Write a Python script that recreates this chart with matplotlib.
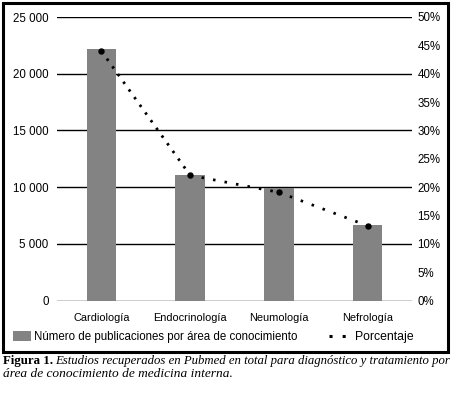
import matplotlib
matplotlib.use("Agg")
import matplotlib.pyplot as plt
from matplotlib.lines import Line2D
from matplotlib.patches import Patch, Rectangle

categories = ["Cardiología", "Endocrinología", "Neumología", "Nefrología"]
publicaciones = [22200, 11050, 9900, 6650]
porcentaje = [44.0, 22.1, 19.1, 13.2]
left_ticks = [0, 5000, 10000, 15000, 20000, 25000]
left_labels = ["0", "5 000", "10 000", "15 000", "20 000", "25 000"]
right_ticks = [0, 5, 10, 15, 20, 25, 30, 35, 40, 45, 50]
right_labels = [f"{t}%" for t in right_ticks]

plt.rcParams['font.family'] = ['Liberation Sans', 'DejaVu Sans']
W, H = 455, 396
fig = plt.figure(figsize=(W/100, H/100), dpi=100)

def fx(px): return px / W
def fy(py): return 1 - py / H

ax = fig.add_axes([fx(57), fy(300.7), fx(412) - fx(57), fy(17) - fy(300.7)])
x = list(range(len(categories)))
ax.bar(x, publicaciones, width=0.33, color='#838383', zorder=2)
ax.set_xlim(-0.5, 3.5)
ax.set_ylim(0, 25000)
ax.set_yticks(left_ticks)
ax.set_yticklabels(left_labels)
ax.set_xticks(x)
ax.set_xticklabels(categories, fontsize=7.9)
for y in left_ticks:
    ax.axhline(y, color='black', lw=1, zorder=1)
for s in ax.spines.values():
    s.set_visible(False)
ax.tick_params(axis='y', length=0, labelsize=8.3, pad=6)
ax.tick_params(axis='x', length=0, pad=8.5)

ax2 = ax.twinx()
ax2.set_ylim(0, 50)
ax2.set_yticks(right_ticks)
ax2.set_yticklabels(right_labels)
for s in ax2.spines.values():
    s.set_visible(False)
ax2.tick_params(axis='y', length=0, labelsize=8.3, pad=4)
seg_styles = [(0, (0.9, 2.5)), (0, (0.9, 3.3)), (0, (0.9, 3.3))]
for i in range(len(x) - 1):
    ax2.plot(x[i:i+2], porcentaje[i:i+2], color='black', lw=2,
             linestyle=seg_styles[i], dash_capstyle='butt', zorder=3)
ax2.plot(x, porcentaje, 'o', color='black', ms=3.6, zorder=4)

# legend entries
fig.legend([Patch(facecolor='#838383', edgecolor='none')],
           ["Número de publicaciones por área de conocimiento"],
           loc='center left', bbox_to_anchor=(fx(13), fy(337)), frameon=False,
           fontsize=8.3, handlelength=1.6, handleheight=1.0, handletextpad=0.25,
           borderpad=0, borderaxespad=0)
fig.legend([Line2D([0], [0], color='black', lw=2.2, linestyle=(0, (1, 3.3)))],
           ["Porcentaje"],
           loc='center left', bbox_to_anchor=(fx(329), fy(337)), frameon=False,
           fontsize=8.8, handlelength=2.0, handletextpad=0.1,
           borderpad=0, borderaxespad=0)

# outer border
fig.patches.append(Rectangle((fx(2.5), fy(352)), fx(447.5) - fx(2.5), fy(2.5) - fy(352),
                             transform=fig.transFigure, fill=False, lw=2.2,
                             edgecolor='black'))

# caption
cap_font = ['Liberation Serif', 'DejaVu Serif']
fig.text(fx(3), fy(361), "Figura 1.", family=cap_font, weight='bold',
         fontsize=9.3, va='center', ha='left')
fig.text(fx(55), fy(361),
         "Estudios recuperados en Pubmed en total para diagnóstico y tratamiento por",
         family=cap_font, style='italic', fontsize=9.2, va='center', ha='left')
fig.text(fx(3), fy(374), "área de conocimiento de medicina interna.",
         family=cap_font, style='italic', fontsize=9.6, va='center', ha='left')

fig.savefig("out.png", dpi=100)
